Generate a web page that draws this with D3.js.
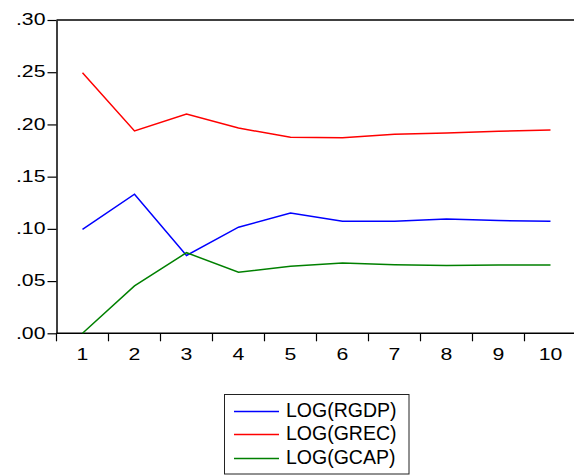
<!DOCTYPE html>
<html>
<head>
<meta charset="utf-8">
<script src="https://cdn.jsdelivr.net/npm/d3@7/dist/d3.min.js"></script>
<style>
  html, body { margin: 0; padding: 0; background: #ffffff; }
  svg { display: block; }
  text { font-family: "Liberation Sans", Arial, sans-serif; fill: #000; }
</style>
</head>
<body>
<svg id="chart" width="574" height="475"></svg>
<script>
// ---- data ----
const periods = ["1", "2", "3", "4", "5", "6", "7", "8", "9", "10"];
const yTicks = [0, 0.05, 0.10, 0.15, 0.20, 0.25, 0.30];
const yTickLabels = [".00", ".05", ".10", ".15", ".20", ".25", ".30"];
const seriesNames = ["LOG(RGDP)", "LOG(GREC)", "LOG(GCAP)"];
const seriesColors = ["#0000ff", "#ff0000", "#008000"];
const rgdp = [0.0994, 0.1332, 0.0745, 0.1016, 0.1152, 0.1073, 0.1073, 0.1094, 0.1080, 0.1073];
const grec = [0.2495, 0.1938, 0.2099, 0.1965, 0.1878, 0.1872, 0.1905, 0.1918, 0.1935, 0.1947];
const gcap = [0.0000, 0.0454, 0.0772, 0.0585, 0.0643, 0.0674, 0.0657, 0.0650, 0.0655, 0.0655];
const seriesValues = [rgdp, grec, gcap];

// ---- layout ----
const plotL = 56.5, plotR = 576.5, plotT = 20, plotB = 333.3;

const svg = d3.select("#chart");

const x = d3.scaleBand().domain(periods).range([plotL, plotR]).paddingInner(0).paddingOuter(0);
const y = d3.scaleLinear().domain([0, 0.30]).range([plotB, plotT]);

// frame top line
svg.append("line").attr("x1", plotL).attr("x2", plotR).attr("y1", plotT).attr("y2", plotT)
  .attr("stroke", "#000").attr("stroke-width", 1.5);

// y axis
const yAxis = d3.axisLeft(y).tickValues(yTicks)
  .tickFormat((d, i) => yTickLabels[i]).tickSizeInner(9).tickSizeOuter(0);
const gy = svg.append("g").attr("transform", `translate(${plotL},0)`).call(yAxis);
gy.select(".domain").attr("stroke", "#000").attr("stroke-width", 1.5);
gy.selectAll(".tick line").attr("stroke", "#000").attr("stroke-width", 1.2);
gy.selectAll(".tick text")
  .attr("x", null).attr("dy", null)
  .attr("font-size", 17)
  .attr("text-anchor", "end")
  .attr("dominant-baseline", "central")
  .attr("transform", "translate(-11,-1) scale(1.25,1)")
  .style("font-family", "'Liberation Sans', Arial, sans-serif");

// x axis: labels at band centers
const xAxis = d3.axisBottom(x).tickSizeInner(0).tickSizeOuter(0).tickPadding(0);
const gx = svg.append("g").attr("transform", `translate(0,${plotB})`).call(xAxis);
gx.select(".domain").remove();
gx.selectAll(".tick line").remove();
gx.selectAll(".tick text")
  .attr("y", null).attr("dy", null)
  .attr("font-size", 17)
  .attr("text-anchor", "middle")
  .attr("dominant-baseline", "alphabetic")
  .attr("transform", "translate(0,27) scale(1.25,1)")
  .style("font-family", "'Liberation Sans', Arial, sans-serif");

// x axis line
svg.append("line").attr("x1", plotL).attr("x2", plotR).attr("y1", plotB).attr("y2", plotB)
  .attr("stroke", "#000").attr("stroke-width", 1.5);
// boundary ticks between categories
const boundaries = periods.map(p => x(p)).concat([x.range()[1]]);
svg.append("g").selectAll("line").data(boundaries).join("line")
  .attr("x1", d => d).attr("x2", d => d)
  .attr("y1", plotB).attr("y2", plotB + 8)
  .attr("stroke", "#000").attr("stroke-width", 1.2);

// series lines
const line = d3.line()
  .x((d, i) => x(periods[i]) + x.bandwidth() / 2)
  .y(d => y(d));
svg.append("g").selectAll("path").data(seriesValues).join("path")
  .attr("d", d => line(d))
  .attr("fill", "none")
  .attr("stroke", (d, i) => seriesColors[i])
  .attr("stroke-width", 1.5)
  .attr("stroke-linejoin", "miter");

// legend
const lg = svg.append("g");
lg.append("rect").attr("x", 224.5).attr("y", 394.5).attr("width", 184.5).attr("height", 79.5)
  .attr("fill", "#fff").attr("stroke", "#222").attr("stroke-width", 1);
const rowY = [411.5, 434.5, 458.5];
const rows = lg.selectAll("g.row").data(seriesNames).join("g").attr("class", "row");
rows.append("line")
  .attr("x1", 234).attr("x2", 279)
  .attr("y1", (d, i) => rowY[i]).attr("y2", (d, i) => rowY[i])
  .attr("stroke", (d, i) => seriesColors[i]).attr("stroke-width", 1.5);
rows.append("text")
  .attr("x", 286).attr("y", (d, i) => rowY[i] + 5)
  .attr("font-size", 19.5)
  .text(d => d);
</script>
</body>
</html>
